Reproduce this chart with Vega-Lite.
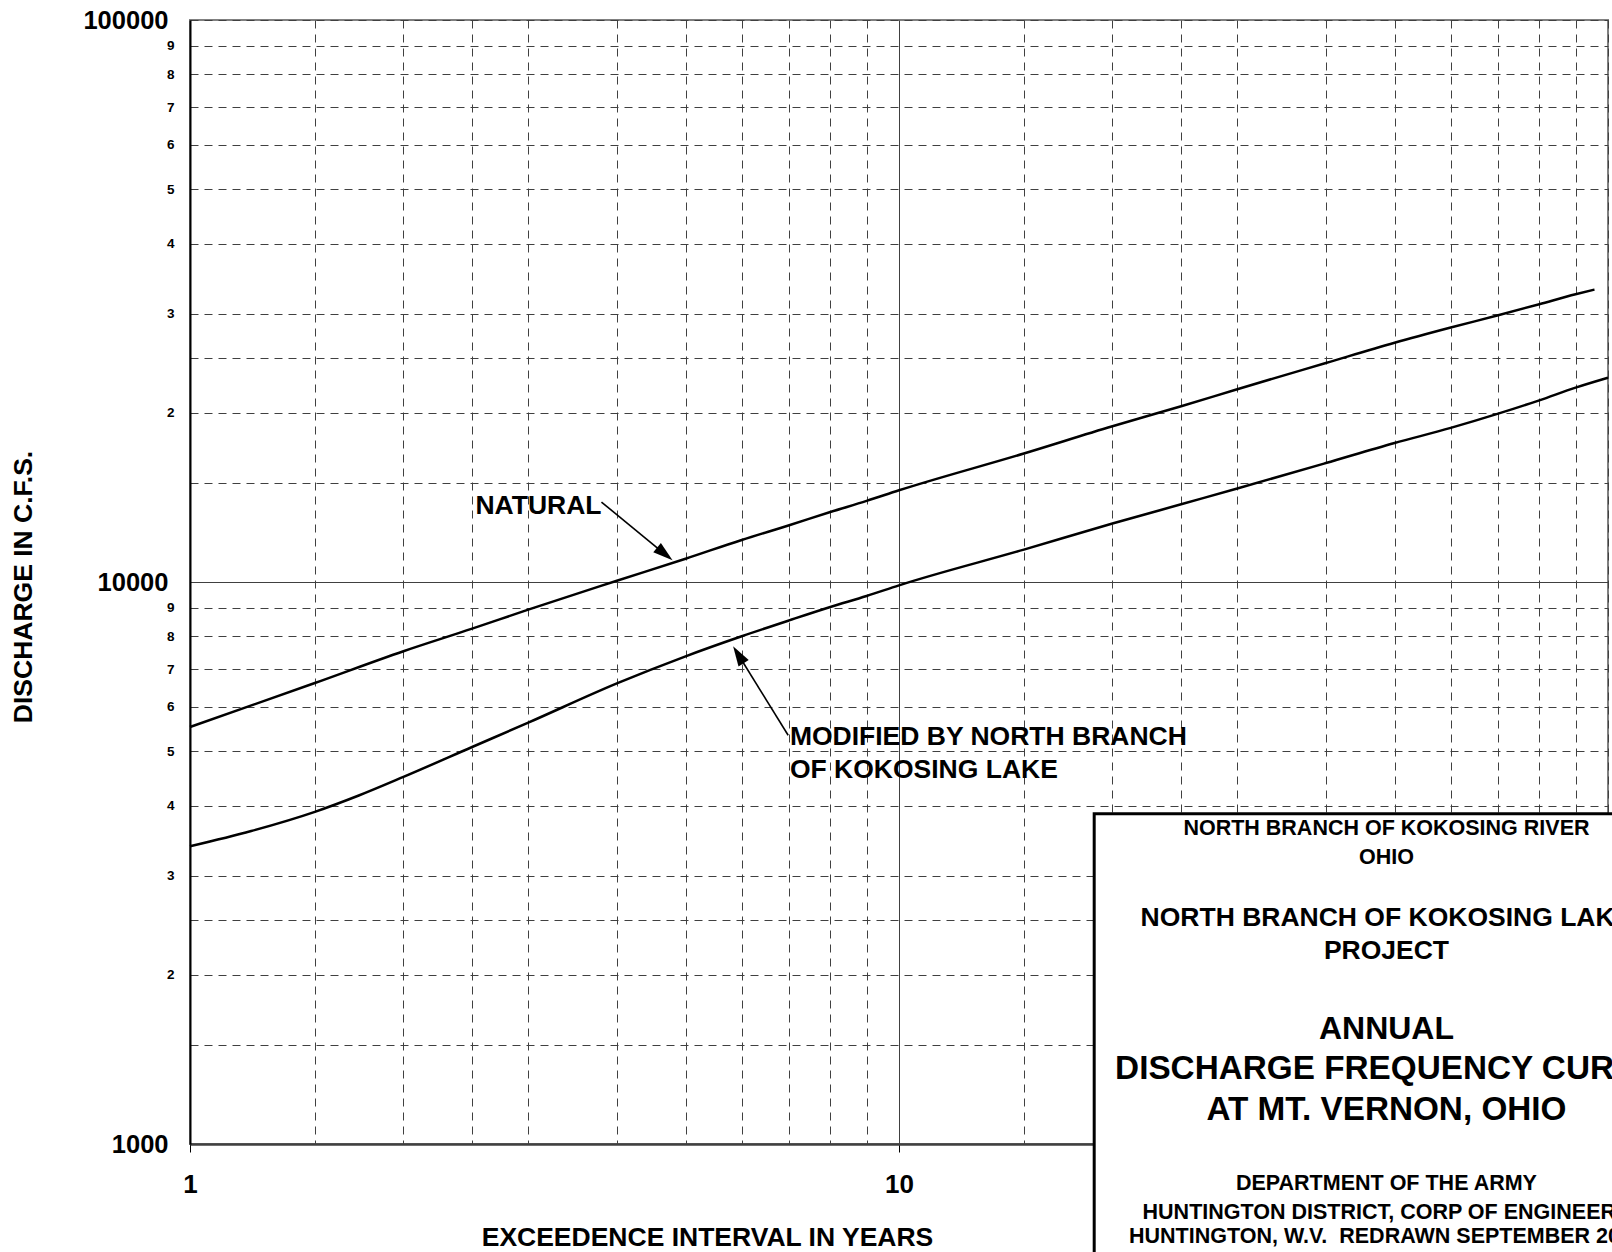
{
  "$schema": "https://vega.github.io/schema/vega-lite/v6.json",
  "width": 1418,
  "height": 1124,
  "autosize": {"type": "none"},
  "padding": {"left": 190, "top": 20, "right": 4, "bottom": 108},
  "background": "white",
  "config": {
    "view": {"stroke": "#808080", "strokeWidth": 2},
    "font": "Liberation Sans"
  },
  "encoding": {
    "x": {
      "field": "x",
      "type": "quantitative",
      "scale": {"type": "log", "domain": [1, 100], "nice": false},
      "axis": {
        "title": "EXCEEDENCE INTERVAL IN YEARS",
        "values": [1, 1.5, 2, 2.5, 3, 4, 5, 6, 7, 8, 9, 10, 15, 20, 25, 30, 40, 50, 60, 70, 80, 90, 100],
        "labelExpr": "datum.value == 1 || datum.value == 10 || datum.value == 100 ? '' + datum.value : ''",
        "labelFont": "Liberation Sans",
        "labelFontWeight": "bold",
        "labelFontSize": 26,
        "labelColor": "black",
        "labelPadding": 19,
        "labelAngle": 0,
        "labelOverlap": false,
        "labelFlush": false,
        "ticks": true,
        "tickSize": 8,
        "tickColor": "black",
        "tickWidth": 1,
        "tickOpacity": {"condition": {"test": "datum.value == 1 || datum.value == 10 || datum.value == 100", "value": 1}, "value": 0},
        "grid": true,
        "gridColor": "#404040",
        "gridWidth": 1,
        "gridDash": {"condition": {"test": "datum.value == 10", "value": []}, "value": [8, 6]},
        "domain": true,
        "domainColor": "#404040",
        "domainWidth": 2.5,
        "titleFont": "Liberation Sans",
        "titleFontWeight": "bold",
        "titleFontSize": 26.5,
        "titleColor": "black",
        "titleX": 517,
        "titleY": 93,
        "titleAlign": "center",
        "titleBaseline": "middle"
      }
    },
    "y": {
      "field": "y",
      "type": "quantitative",
      "scale": {"type": "log", "domain": [1000, 100000], "nice": false},
      "axis": {
        "title": "DISCHARGE IN C.F.S.",
        "values": [1000, 1500, 2000, 2500, 3000, 4000, 5000, 6000, 7000, 8000, 9000, 10000, 15000, 20000, 25000, 30000, 40000, 50000, 60000, 70000, 80000, 90000, 100000],
        "labelExpr": "datum.value == 1000 || datum.value == 10000 || datum.value == 100000 ? '' + datum.value : (datum.value < 10000 ? (datum.value % 1000 == 0 ? '' + (datum.value / 1000) : '') : (datum.value % 10000 == 0 ? '' + (datum.value / 10000) : ''))",
        "labelFont": "Liberation Sans",
        "labelFontWeight": "bold",
        "labelFontSize": {"condition": {"test": "datum.value == 1000 || datum.value == 10000 || datum.value == 100000", "value": 25.5}, "value": 13.5},
        "labelPadding": {"condition": {"test": "datum.value == 1000 || datum.value == 10000 || datum.value == 100000", "value": 22}, "value": 16},
        "labelColor": "black",
        "labelBaseline": "middle",
        "labelOverlap": false,
        "labelFlush": false,
        "ticks": false,
        "tickSize": 0,
        "grid": true,
        "gridColor": "#404040",
        "gridWidth": 1,
        "gridDash": {"condition": {"test": "datum.value == 10000", "value": []}, "value": [8, 6]},
        "domain": true,
        "domainColor": "black",
        "domainWidth": 2,
        "titleFont": "Liberation Sans",
        "titleFontWeight": "bold",
        "titleFontSize": 26.5,
        "titleColor": "black",
        "titleX": -167,
        "titleY": 566.5,
        "titleAngle": -90,
        "titleAlign": "center",
        "titleBaseline": "middle"
      }
    }
  },
  "layer": [
    {
      "data": {
        "values": [
          {"series": "NATURAL", "x": 1, "y": 5520},
          {"series": "NATURAL", "x": 1.5, "y": 6610},
          {"series": "NATURAL", "x": 2, "y": 7530},
          {"series": "NATURAL", "x": 2.5, "y": 8260},
          {"series": "NATURAL", "x": 3, "y": 8930},
          {"series": "NATURAL", "x": 4, "y": 10050},
          {"series": "NATURAL", "x": 5, "y": 11000},
          {"series": "NATURAL", "x": 6, "y": 11880},
          {"series": "NATURAL", "x": 7, "y": 12620},
          {"series": "NATURAL", "x": 8, "y": 13320},
          {"series": "NATURAL", "x": 9, "y": 13940},
          {"series": "NATURAL", "x": 10, "y": 14560},
          {"series": "NATURAL", "x": 15, "y": 16930},
          {"series": "NATURAL", "x": 20, "y": 18930},
          {"series": "NATURAL", "x": 25, "y": 20540},
          {"series": "NATURAL", "x": 30, "y": 22030},
          {"series": "NATURAL", "x": 40, "y": 24530},
          {"series": "NATURAL", "x": 50, "y": 26650},
          {"series": "NATURAL", "x": 60, "y": 28360},
          {"series": "NATURAL", "x": 70, "y": 29830},
          {"series": "NATURAL", "x": 80, "y": 31210},
          {"series": "NATURAL", "x": 90, "y": 32500},
          {"series": "NATURAL", "x": 95.7, "y": 33140},
          {"series": "MODIFIED", "x": 1, "y": 3386},
          {"series": "MODIFIED", "x": 1.22, "y": 3605},
          {"series": "MODIFIED", "x": 1.5, "y": 3900},
          {"series": "MODIFIED", "x": 1.73, "y": 4170},
          {"series": "MODIFIED", "x": 2, "y": 4500},
          {"series": "MODIFIED", "x": 2.5, "y": 5086},
          {"series": "MODIFIED", "x": 3, "y": 5620},
          {"series": "MODIFIED", "x": 4, "y": 6600},
          {"series": "MODIFIED", "x": 5, "y": 7375},
          {"series": "MODIFIED", "x": 6, "y": 8006},
          {"series": "MODIFIED", "x": 7, "y": 8545},
          {"series": "MODIFIED", "x": 8, "y": 9027},
          {"series": "MODIFIED", "x": 9, "y": 9443},
          {"series": "MODIFIED", "x": 10, "y": 9865},
          {"series": "MODIFIED", "x": 15, "y": 11420},
          {"series": "MODIFIED", "x": 20, "y": 12705},
          {"series": "MODIFIED", "x": 25, "y": 13750},
          {"series": "MODIFIED", "x": 30, "y": 14665},
          {"series": "MODIFIED", "x": 40, "y": 16280},
          {"series": "MODIFIED", "x": 50, "y": 17674},
          {"series": "MODIFIED", "x": 60, "y": 18800},
          {"series": "MODIFIED", "x": 70, "y": 19930},
          {"series": "MODIFIED", "x": 80, "y": 21050},
          {"series": "MODIFIED", "x": 90, "y": 22180},
          {"series": "MODIFIED", "x": 100, "y": 23100}
        ]
      },
      "mark": {"type": "line", "color": "black", "strokeWidth": 2.5, "interpolate": "monotone"},
      "encoding": {"detail": {"field": "series", "type": "nominal"}}
    },
    {
      "data": {
        "values": [
          {"x": 3.805, "y": 13875, "x2": 4.674, "y2": 11215},
          {"x": 6.977, "y": 5337, "x2": 5.935, "y2": 7423}
        ]
      },
      "mark": {"type": "rule", "color": "black", "strokeWidth": 1.6},
      "encoding": {
        "x2": {"field": "x2"},
        "y2": {"field": "y2"}
      }
    },
    {
      "data": {"values": [{"x": 4.674, "y": 11215}]},
      "mark": {"type": "point", "shape": "M0,-1L0.6,1L-0.6,1Z", "size": 400, "filled": true, "color": "black", "opacity": 1, "strokeWidth": 0, "angle": 129.4}
    },
    {
      "data": {"values": [{"x": 5.935, "y": 7423}]},
      "mark": {"type": "point", "shape": "M0,-1L0.6,1L-0.6,1Z", "size": 400, "filled": true, "color": "black", "opacity": 1, "strokeWidth": 0, "angle": -31.7}
    },
    {
      "data": {
        "values": [
          {"x": 2.527, "y": 13236, "t": "NATURAL"},
          {"x": 7.016, "y": 5134, "t": "MODIFIED BY NORTH BRANCH"},
          {"x": 7.016, "y": 4480, "t": "OF KOKOSING LAKE"}
        ]
      },
      "mark": {"type": "text", "font": "Liberation Sans", "fontWeight": "bold", "fontSize": 26.5, "color": "black", "align": "left", "baseline": "alphabetic"},
      "encoding": {"text": {"field": "t", "type": "nominal"}}
    },
    {
      "data": {"values": [{"x": 18.85, "y": 3871, "x2": 400, "y2": 300}]},
      "mark": {"type": "rect", "fill": "white", "stroke": "black", "strokeWidth": 3},
      "encoding": {
        "x2": {"field": "x2"},
        "y2": {"field": "y2"}
      }
    },
    {
      "data": {
        "values": [
          {"x": 48.7, "y": 3636, "t": "NORTH BRANCH OF KOKOSING RIVER"},
          {"x": 48.7, "y": 3231, "t": "OHIO"},
          {"x": 48.7, "y": 848, "t": "DEPARTMENT OF THE ARMY"},
          {"x": 48.7, "y": 754.5, "t": "HUNTINGTON DISTRICT, CORP OF ENGINEERS"},
          {"x": 48.7, "y": 684, "t": "HUNTINGTON, W.V.\u00a0 REDRAWN SEPTEMBER 2008"}
        ]
      },
      "mark": {"type": "text", "font": "Liberation Sans", "fontWeight": "bold", "fontSize": 21.5, "color": "black", "align": "center", "baseline": "middle"},
      "encoding": {"text": {"field": "t", "type": "nominal"}}
    },
    {
      "data": {
        "values": [
          {"x": 48.7, "y": 2527, "t": "NORTH BRANCH OF KOKOSING LAKE"},
          {"x": 48.7, "y": 2207, "t": "PROJECT"}
        ]
      },
      "mark": {"type": "text", "font": "Liberation Sans", "fontWeight": "bold", "fontSize": 26.5, "color": "black", "align": "center", "baseline": "middle"},
      "encoding": {"text": {"field": "t", "type": "nominal"}}
    },
    {
      "data": {
        "values": [
          {"x": 48.7, "y": 1600, "t": "ANNUAL"}
        ]
      },
      "mark": {"type": "text", "font": "Liberation Sans", "fontWeight": "bold", "fontSize": 32, "color": "black", "align": "center", "baseline": "middle"},
      "encoding": {"text": {"field": "t", "type": "nominal"}}
    },
    {
      "data": {
        "values": [
          {"x": 48.7, "y": 1358, "t": "DISCHARGE FREQUENCY CURVE"},
          {"x": 48.7, "y": 1148, "t": "AT MT. VERNON, OHIO"}
        ]
      },
      "mark": {"type": "text", "font": "Liberation Sans", "fontWeight": "bold", "fontSize": 33.3, "color": "black", "align": "center", "baseline": "middle"},
      "encoding": {"text": {"field": "t", "type": "nominal"}}
    }
  ]
}
